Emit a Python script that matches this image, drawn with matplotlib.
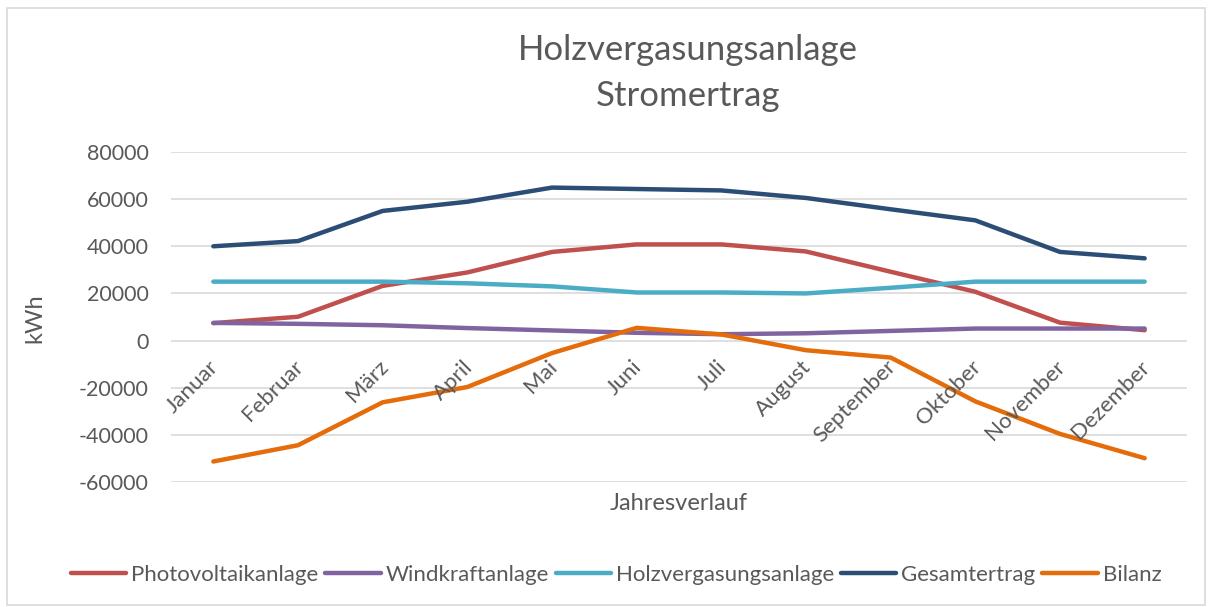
import matplotlib
matplotlib.use("Agg")
import matplotlib.pyplot as plt
from matplotlib.patches import Rectangle
from matplotlib.transforms import ScaledTranslation

months = ["Januar", "Februar", "März", "April", "Mai", "Juni", "Juli",
          "August", "September", "Oktober", "November", "Dezember"]
photovoltaik = [7400, 10100, 23200, 28900, 37600, 40800, 40800, 37800, 29200, 20700, 7600, 4400]
windkraft = [7500, 7100, 6500, 5300, 4300, 3300, 2700, 3100, 4100, 5100, 5100, 5100]
holzvergasung = [25000, 25000, 25000, 24300, 23000, 20400, 20400, 20000, 22400, 25000, 25000, 25000]
gesamtertrag = [40000, 42200, 55000, 58900, 64900, 64300, 63700, 60500, 55700, 51000, 37600, 34900]
bilanz = [-51300, -44400, -26200, -19700, -5300, 5400, 2600, -4100, -7200, -25800, -39600, -49900]
y_ticks = [-60000, -40000, -20000, 0, 20000, 40000, 60000, 80000]

series = [
    ("Photovoltaikanlage", photovoltaik, "#C0504D"),
    ("Windkraftanlage", windkraft, "#8064A2"),
    ("Holzvergasungsanlage", holzvergasung, "#4BACC6"),
    ("Gesamtertrag", gesamtertrag, "#2C4D75"),
    ("Bilanz", bilanz, "#E46C0A"),
]

plt.rcParams['font.family'] = ['Lato', 'DejaVu Sans']
txt = "#595959"

fig = plt.figure(figsize=(12.12, 6.07), dpi=100)
fig.patches.append(Rectangle((7/1212, 1 - 605/607), 1198/1212, 597/607,
                             transform=fig.transFigure, fill=False,
                             edgecolor="#D9D9D9", linewidth=1.2))
ax = fig.add_axes([171/1212, 1 - 482/607, (1187 - 171)/1212, (482 - 152)/607])

for yv in y_ticks:
    ax.axhline(yv, color="#D9D9D9", lw=1.2, zorder=0)

x = list(range(len(months)))
for name, vals, col in series:
    ax.plot(x, vals, color=col, lw=3.2, label=name, solid_capstyle="round",
            solid_joinstyle="round", zorder=3)

ax.set_xlim(-0.5, 11.5)
ax.set_ylim(-60000, 80000)
ax.set_yticks(y_ticks)
ax.set_yticklabels([str(v) for v in y_ticks], fontsize=15.5, color=txt)
for s in ["top", "right", "left"]:
    ax.spines[s].set_visible(False)
ax.spines["bottom"].set_position(("data", 0))
ax.spines["bottom"].set_visible(False)
ax.tick_params(axis="y", length=0, pad=16)
ax.tick_params(axis="x", length=0, pad=3)
ax.set_xticks(x)
ax.set_xticklabels(months, rotation=45, ha="right", va="top",
                   rotation_mode="anchor", fontsize=16, color=txt)
shift = ScaledTranslation(-5/100, -12/100, fig.dpi_scale_trans)
for lab in ax.get_xticklabels():
    lab.set_transform(lab.get_transform() + shift)
ax.xaxis.set_zorder(5)

fig.text(688/1212, 1 - 50/607, "Holzvergasungsanlage", ha="center", va="center",
         fontsize=25, color=txt)
fig.text(688/1212, 1 - 96/607, "Stromertrag", ha="center", va="center",
         fontsize=25, color=txt)
fig.text(679/1212, 1 - 503/607, "Jahresverlauf", ha="center", va="center",
         fontsize=17, color=txt)
fig.text(35/1212, 1 - 318/607, "kWh", ha="center", va="center", rotation=90,
         fontsize=17, color=txt)

leg = fig.legend(loc="center", bbox_to_anchor=(616/1212, 1 - 575/607), ncol=5,
                 frameon=False, fontsize=16, handlelength=2.5, handletextpad=0.22,
                 columnspacing=0.3)
for t in leg.get_texts():
    t.set_color(txt)

fig.savefig("out.png", dpi=100)
